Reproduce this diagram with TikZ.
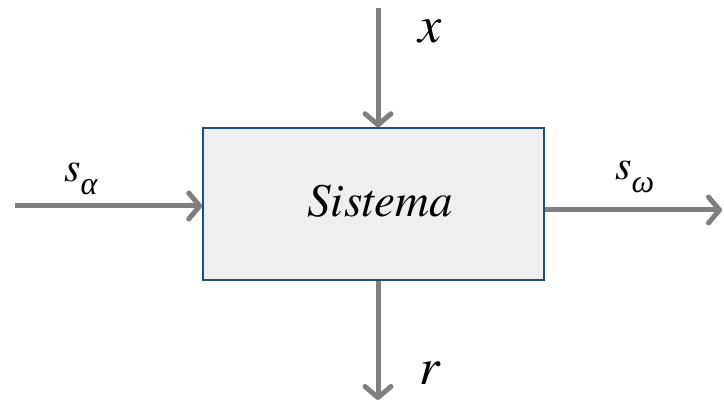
\documentclass[tikz,border=0pt]{standalone}
\usepackage{fontspec}
\newfontfamily\lbfont{TeX Gyre Termes}
\newfontfamily\grfont{Liberation Serif}
\usetikzlibrary{arrows.meta}
\newcommand{\lowsub}[1]{\raisebox{-13pt}{\fontsize{32}{34}\selectfont\grfont\itshape #1}}

\begin{document}
\begin{tikzpicture}[x=1pt, y=-1pt, >={Straight Barb[length=11pt,width=26pt,round]}]
\tikzstyle{flow}=[draw={rgb,255:red,127;green,127;blue,127},line width=5pt,->]
\tikzstyle{lbl}=[inner sep=0pt,anchor=base west,font=\fontsize{52}{56}\selectfont\lbfont\itshape]
\useasboundingbox (0,0) rectangle (724,403);
\node[draw={rgb,255:red,31;green,78;blue,121},line width=1.5pt,fill={rgb,255:red,239;green,239;blue,239},
      minimum width=341pt,minimum height=152pt,inner sep=0pt] (sys) at (373.5,204) {};
\node[lbl,anchor=base,font=\fontsize{47}{52}\selectfont\lbfont\itshape] (name) at (380,217) {Sistema};
\coordinate (in) at (15,206);
\coordinate (out) at (722,210);
\coordinate (top) at (378,8);
\coordinate (bot) at (378,400);
\draw[flow] (in) -- (in -| sys.west);
\draw[flow] (out -| sys.east) -- (out);
\draw[flow] (top) -- (top |- sys.north);
\draw[flow] (bot |- sys.south) -- (bot);
\node[lbl] (x) at (418,43) {x};
\node[lbl] (r) at (419,385) {r};
\node[lbl,font=\fontsize{42}{46}\selectfont\lbfont\itshape] (sa) at (64,182) {s\lowsub{α}};
\node[lbl,font=\fontsize{42}{46}\selectfont\lbfont\itshape] (so) at (615,180) {s\lowsub{ω}};
\end{tikzpicture}
\end{document}
